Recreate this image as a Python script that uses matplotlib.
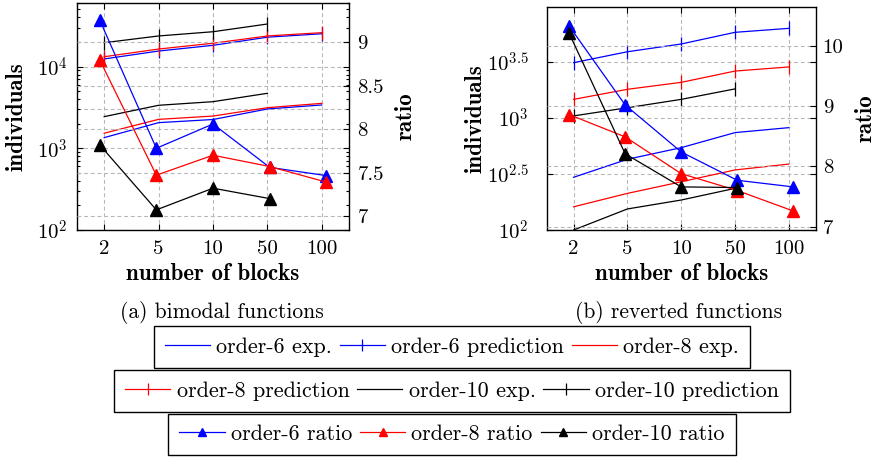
import matplotlib
matplotlib.use('Agg')
import matplotlib.pyplot as plt
from matplotlib.lines import Line2D
from matplotlib.ticker import FixedLocator, FixedFormatter, LogLocator, NullFormatter, NullLocator
import numpy as np

plt.rcParams['font.family'] = ['cmr10', 'DejaVu Sans']
plt.rcParams['mathtext.fontset'] = 'cm'
plt.rcParams['axes.unicode_minus'] = False
plt.rcParams['axes.formatter.use_mathtext'] = True

# ---------------- data ----------------
blocks = ['2', '5', '10', '50', '100']

# (a) bimodal functions
bi_o6_exp = [1350, 2060, 2250, 3030, 3390]
bi_o8_exp = [1530, 2260, 2480, 3140, 3550]
bi_o10_exp = [2440, 3360, 3720, 4710]
bi_o6_pred = [12400, 15500, 18200, 22900, 25200]
bi_o8_pred = [13200, 16400, 19300, 23700, 26000]
bi_o10_pred = [19600, 23700, 26700, 33200]
bi_o6_ratio = [9.26, 7.78, 8.06, 7.56, 7.465]
bi_o8_ratio = [8.80, 7.47, 7.70, 7.57, 7.39]
bi_o10_ratio = [7.82, 7.07, 7.32, 7.20]

# (b) reverted functions
rv_o6_exp = [295, 427, 542, 738, 817]
rv_o8_exp = [161, 212, 269, 343, 387]
rv_o10_exp = [100, 154, 185, 235]
rv_o6_pred = [3100, 3880, 4550, 5780, 6270]
rv_o8_pred = [1460, 1795, 2070, 2610, 2840]
rv_o10_pred = [1040, 1230, 1460, 1810]
rv_o6_ratio = [10.33, 9.02, 8.24, 7.77, 7.66]
rv_o8_ratio = [8.86, 8.49, 7.88, 7.60, 7.26]
rv_o10_ratio = [10.21, 8.21, 7.66, 7.65]

# axis ticks
bi_yticks = [1e2, 1e3, 1e4]
bi_ylabels = [r'$10^{2}$', r'$10^{3}$', r'$10^{4}$']
bi_extra_grid = [3000]
bi_rticks = [7, 7.5, 8, 8.5, 9]
bi_rlabels = ['7', '7.5', '8', '8.5', '9']
rv_yticks = [10**2, 10**2.5, 10**3, 10**3.5]
rv_ylabels = [r'$10^{2}$', r'$10^{2.5}$', r'$10^{3}$', r'$10^{3.5}$']
rv_rticks = [7, 8, 9, 10]
rv_rlabels = ['7', '8', '9', '10']

colors = ['blue', 'red', 'black']

FS_TICK = 15
FS_LAB = 16.5
FS_LEG = 15.9
FS_CAP = 15.5
LW = 0.9
GRID = dict(color='0.72', linestyle=(0, (3.5, 2.5)), linewidth=0.8)

W, H = 876, 458
fig = plt.figure(figsize=(W / 100, H / 100), dpi=100)


def panel(px, exps, preds, ratios, ylim, rlim, yticks, ylabels, rticks, rlabels,
          minor, extra, ypad, rpad, lab_ind_x, lab_ratio_x, caption, cap_x):
    l, t, r, b = px
    rect = [l / W, 1 - b / H, (r - l) / W, (b - t) / H]
    ax = fig.add_axes(rect)
    x = np.arange(len(blocks))
    ax.set_yscale('log')
    for e, p, c in zip(exps, preds, colors):
        ax.plot(x[:len(e)], e, color=c, lw=LW)
        ax.plot(x[:len(p)], p, color=c, lw=LW, marker='|', ms=10, mew=LW)
    ax.set_xlim(-0.5, 4.5)
    ax.set_ylim(*ylim)
    ax.set_xticks(x)
    ax.set_xticklabels(blocks)
    ax.yaxis.set_major_locator(FixedLocator(yticks))
    ax.yaxis.set_major_formatter(FixedFormatter(ylabels))
    if minor:
        ax.yaxis.set_minor_locator(LogLocator(base=10, subs=np.arange(2, 10)))
    else:
        ax.yaxis.set_minor_locator(NullLocator())
    ax.yaxis.set_minor_formatter(NullFormatter())
    ax.tick_params(which='both', direction='in', top=True, right=True,
                   labelsize=FS_TICK, width=0.8)
    ax.tick_params(which='major', length=4)
    ax.tick_params(which='minor', length=2.5)
    ax.tick_params(axis='y', pad=ypad)
    ax.tick_params(axis='x', pad=7)
    ax.grid(True, which='major', **GRID)
    for v in extra:
        ax.axhline(v, zorder=0.5, **GRID)
    ax.set_axisbelow(True)
    for s in ax.spines.values():
        s.set_linewidth(1.0)
    ax.set_ylabel('individuals', fontfamily='cmb10', fontsize=FS_LAB,
                  ha='center', va='center')
    ax.yaxis.set_label_coords(lab_ind_x, 0.5)
    ax.set_xlabel('number of blocks', fontfamily='cmb10', fontsize=FS_LAB,
                  ha='center', va='center')
    ax.xaxis.set_label_coords(0.5, -(274 - b) / (b - t))

    axr = fig.add_axes(rect, frameon=False)
    for rr, c in zip(ratios, colors):
        axr.plot(np.arange(len(rr)), rr, color=c, lw=LW, marker='^', ms=8)
    axr.set_xlim(-0.4, 4.4)
    axr.xaxis.set_visible(False)
    axr.set_ylim(*rlim)
    axr.yaxis.tick_right()
    axr.yaxis.set_label_position('right')
    axr.set_yticks(rticks)
    axr.set_yticklabels(rlabels)
    axr.tick_params(axis='y', which='both', direction='in', labelsize=FS_TICK,
                    length=4, width=0.8, pad=rpad)
    axr.grid(True, axis='y', **GRID)
    axr.set_axisbelow(True)
    axr.set_ylabel('ratio', fontfamily='cmb10', fontsize=FS_LAB, ha='center',
                   va='center', rotation=90)
    axr.yaxis.set_label_coords(lab_ratio_x, 0.5)

    fig.text(cap_x / W, 1 - 313 / H, caption, ha='center', va='center',
             fontsize=FS_CAP)
    return ax, axr


panel((77, 3, 349, 230),
      [bi_o6_exp, bi_o8_exp, bi_o10_exp],
      [bi_o6_pred, bi_o8_pred, bi_o10_pred],
      [bi_o6_ratio, bi_o8_ratio, bi_o10_ratio],
      (100, 60000), (6.838, 9.455),
      bi_yticks, bi_ylabels, bi_rticks, bi_rlabels,
      True, bi_extra_grid, 7, 6,
      (16.7 - 77) / 272, (405.8 - 77) / 272,
      '(a) bimodal functions', 222)

panel((546.7, 7.3, 815.7, 230),
      [rv_o6_exp, rv_o8_exp, rv_o10_exp],
      [rv_o6_pred, rv_o8_pred, rv_o10_pred],
      [rv_o6_ratio, rv_o8_ratio, rv_o10_ratio],
      (100, 10**3.985), (6.945, 10.64),
      rv_yticks, rv_ylabels, rv_rticks, rv_rlabels,
      False, [], 13, 5,
      (475.8 - 546.7) / 269, (866 - 546.7) / 269,
      '(b) reverted functions', 679)

# ---------------- legends ----------------
def h_exp(c):
    return Line2D([], [], color=c, lw=LW)


def h_pred(c):
    return Line2D([], [], color=c, lw=LW, marker='|', ms=8, mew=LW)


def h_ratio(c):
    return Line2D([], [], color=c, lw=LW, marker='^', ms=5.5)


rows = [
    ([h_exp('blue'), h_pred('blue'), h_exp('red')],
     ['order-6 exp.', 'order-6 prediction', 'order-8 exp.'], 347),
    ([h_pred('red'), h_exp('black'), h_pred('black')],
     ['order-8 prediction', 'order-10 exp.', 'order-10 prediction'], 391),
    ([h_ratio('blue'), h_ratio('red'), h_ratio('black')],
     ['order-6 ratio', 'order-8 ratio', 'order-10 ratio'], 434.3),
]
for hs, ls, yc in rows:
    leg = fig.legend(hs, ls, ncol=3, loc='center',
                     bbox_to_anchor=(452 / W, 1 - yc / H),
                     fontsize=FS_LEG, frameon=True, fancybox=False, shadow=False,
                     handlelength=2.05, handletextpad=0.28, columnspacing=0.35,
                     borderpad=0.5, borderaxespad=0)
    fr = leg.get_frame()
    fr.set_edgecolor('black')
    fr.set_linewidth(1.0)
    fr.set_alpha(None)

fig.savefig('out.png', dpi=100)
